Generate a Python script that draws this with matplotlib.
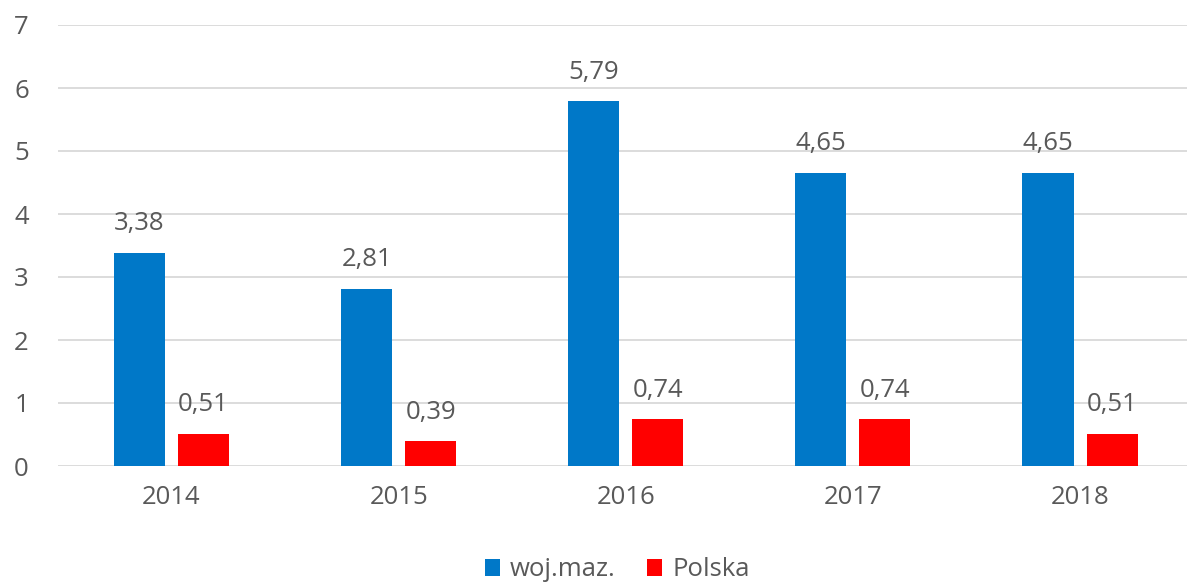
import numpy as np
import matplotlib.pyplot as plt

plt.rcParams['font.family'] = ['Open Sans', 'DejaVu Sans']

# dane
lata = ['2014', '2015', '2016', '2017', '2018']
woj_maz = [3.38, 2.81, 5.79, 4.65, 4.65]
polska = [0.51, 0.39, 0.74, 0.74, 0.51]

kolor_tekstu = '#595959'
W, H = 1187, 585

fig = plt.figure(figsize=(W / 100, H / 100), dpi=100)
ax = fig.add_axes([58 / W, 119 / H, 1135.6 / W, 441 / H])

x = np.arange(len(lata))
szer = 0.225
przes = 0.141
b1 = ax.bar(x - przes, woj_maz, szer, color='#0078C8', label='woj.maz.', zorder=3)
b2 = ax.bar(x + przes, polska, szer, color='#FF0000', label='Polska', zorder=3)

# etykiety wartości nad słupkami
for bars in (b1, b2):
    for b in bars:
        v = b.get_height()
        ax.annotate(f'{v:.2f}'.replace('.', ','), (b.get_x() + b.get_width() / 2, v),
                    xytext=(0, 12), textcoords='offset points', ha='center', va='bottom',
                    fontsize=18.5, color=kolor_tekstu)

ax.set_xlim(-0.5, len(lata) - 0.5)
ax.set_ylim(0, 7)
ax.set_yticks(range(8))
ax.set_xticks(x)
ax.set_xticklabels(lata)
ax.tick_params(axis='both', length=0, labelsize=18.5, labelcolor=kolor_tekstu)
ax.tick_params(axis='x', pad=14)
ax.tick_params(axis='y', pad=21)
ax.grid(axis='y', color='#D9D9D9', linewidth=1.3, zorder=0)
for s in ax.spines.values():
    s.set_visible(False)

fig.legend(handles=[b1, b2], loc='center', bbox_to_anchor=(0.52, 1 - 570 / H),
           ncol=2, frameon=False, fontsize=18.5, handlelength=0.6, handleheight=0.6,
           handletextpad=0.4, columnspacing=1.2, labelcolor=kolor_tekstu)

fig.savefig('out.png', dpi=100)
